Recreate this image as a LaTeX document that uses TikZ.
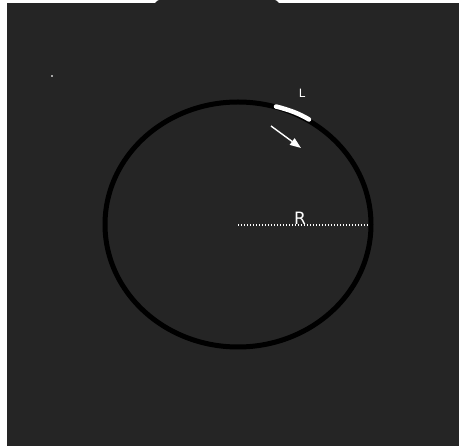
\documentclass[tikz,border=0pt]{standalone}
\usepackage{fontspec}
\setmainfont{DejaVu Sans}
\usetikzlibrary{arrows.meta}
\definecolor{bg}{HTML}{252525}
\tikzset{
  lbl/.style={text=white, inner sep=0pt},
  rim/.style={draw=black, line width=5pt},
  wline/.style={draw=white, line width=1.4pt},
}
\begin{document}
\begin{tikzpicture}[x=1pt,y=-1pt]
\useasboundingbox (0,0) rectangle (459,446);
\fill[white] (0,0) rectangle (459,446);
\fill[bg] (7,3) rectangle (459,446);
\fill[bg] (155,3) .. controls (158,0) .. (162,0) -- (272,0) .. controls (276,0) .. (279,3) -- cycle;
% circle
\draw[rim] (238,224.5) ellipse [x radius=133, y radius=122.5];
% highlighted arc L
\draw[white, line width=4.5pt, line cap=round] (276,106.5) .. controls (290,110) and (300,114) .. (309,119.5);
% centre and radius line
\coordinate (c) at (238,225);
\coordinate (e) at (368,225);
\draw[white, line width=1.5pt, dash pattern=on 1.3pt off 1.7pt] (c) -- (e);
\node[lbl, font=\fontsize{17}{17}\selectfont, anchor=base] (R) at (300,225) {R};
\node[lbl, font=\fontsize{11.5}{12}\selectfont, anchor=base] (L) at (302,97.5) {L};
% arrow
\coordinate (a1) at (271,126);
\coordinate (a2) at (301,148);
\draw[wline, -{Triangle[length=11pt,width=8pt]}] (a1) -- (a2);
% tiny speck
\fill[gray!70] (51.3,75.5) rectangle (52.7,76.7);
\end{tikzpicture}
\end{document}
